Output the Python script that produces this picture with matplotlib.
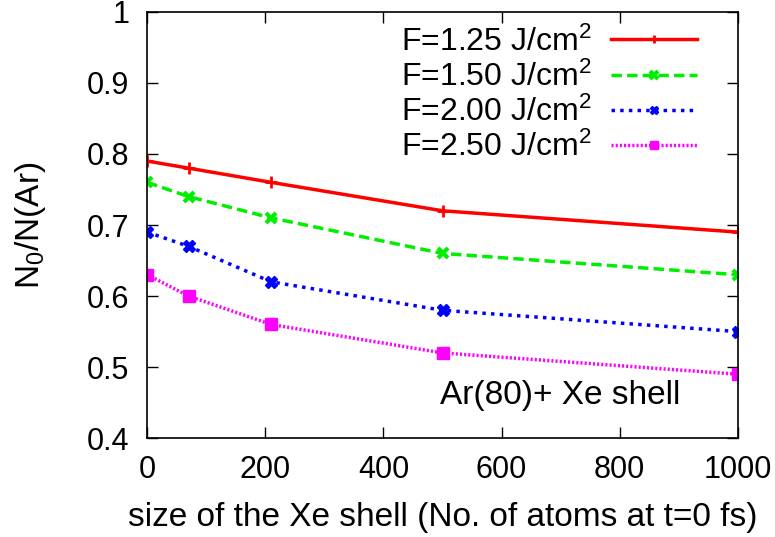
import matplotlib
matplotlib.use("Agg")
import matplotlib.pyplot as plt

plt.rcParams['font.family'] = ['Liberation Sans', 'DejaVu Sans']
plt.rcParams['mathtext.fontset'] = 'custom'
plt.rcParams['mathtext.rm'] = 'Liberation Sans'
plt.rcParams['mathtext.it'] = 'Liberation Sans'

shell_size = [0, 70, 210, 500, 1000]
f125 = [0.79, 0.78, 0.76, 0.72, 0.69]
f150 = [0.76, 0.74, 0.71, 0.66, 0.63]
f200 = [0.69, 0.67, 0.62, 0.58, 0.55]
f250 = [0.63, 0.60, 0.56, 0.52, 0.49]
labels = [r'F=1.25 J/cm$^2$', r'F=1.50 J/cm$^2$', r'F=2.00 J/cm$^2$', r'F=2.50 J/cm$^2$']

fig = plt.figure(figsize=(7.75, 5.37), dpi=100)
ax = fig.add_axes([0.19, 0.184, 0.762, 0.794])

ax.plot(shell_size, f125, color='red', ls='-', lw=2.5, marker='+', ms=8, mew=2, label=labels[0])
ax.plot(shell_size, f150, color='#00ee00', ls=(0, (3, 1.5)), lw=2.5, marker='x', ms=7, mew=3, label=labels[1])
ax.plot(shell_size, f200, color='blue', ls=(0, (1, 1.5)), lw=2.5, marker='X', ms=8, mew=1, label=labels[2])
ax.plot(shell_size, f250, color='magenta', ls=(0, (0.6, 0.6)), lw=2.5, marker='s', ms=8, label=labels[3])

ax.set_xlim(0, 1000)
ax.set_ylim(0.4, 1.0)
ax.set_xticks([0, 200, 400, 600, 800, 1000])
ax.set_yticks([0.4, 0.5, 0.6, 0.7, 0.8, 0.9, 1.0])
ax.set_yticklabels(['0.4', '0.5', '0.6', '0.7', '0.8', '0.9', '1'])
ax.tick_params(direction='in', length=8, width=1, labelsize=22, top=True, right=True)
ax.tick_params(axis='y', pad=13)
ax.tick_params(axis='x', pad=12)
for s in ax.spines.values():
    s.set_linewidth(1.2)

ax.set_xlabel('size of the Xe shell (No. of atoms at t=0 fs)', fontsize=24, labelpad=12)
ax.set_ylabel(r'N$_0$/N(Ar)', fontsize=24, labelpad=28)

leg = ax.legend(loc='upper right', bbox_to_anchor=(0.931, 0.966), frameon=False, fontsize=23,
                markerfirst=False, handlelength=2.7, labelspacing=0.12, borderaxespad=0.0,
                handletextpad=0.6, borderpad=0.0, markerscale=0.8)
for t in leg.get_texts():
    t.set_ha('right')
leg._legend_box.align = 'right'

ax.text(0.699, 0.101, 'Ar(80)+ Xe shell', transform=ax.transAxes, fontsize=24, ha='center', va='center')

fig.savefig('out.png', dpi=100)
